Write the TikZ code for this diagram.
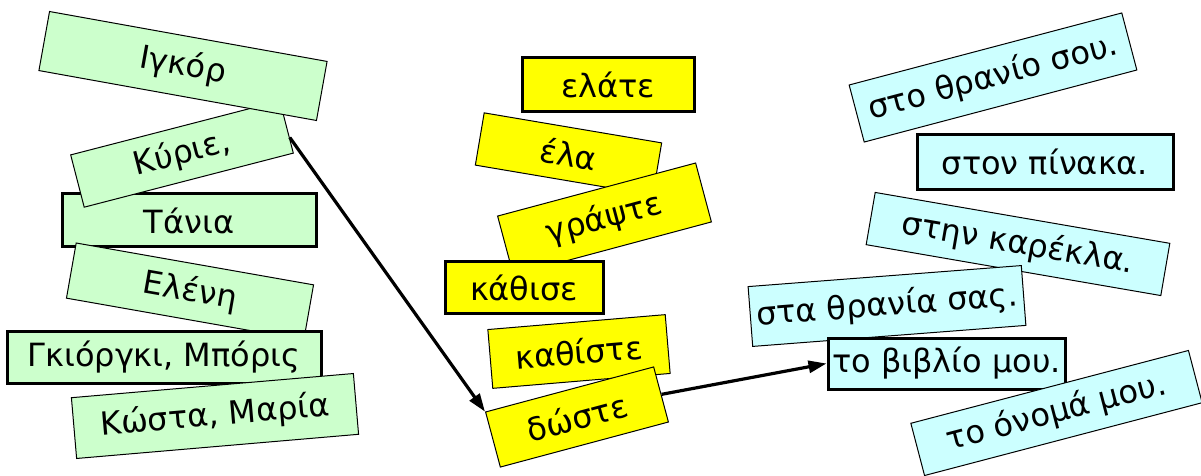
\documentclass[tikz,border=0pt]{standalone}
\usepackage{fontspec}
\setmainfont{DejaVu Sans}
\usetikzlibrary{positioning,arrows.meta,calc}
\definecolor{namegreen}{HTML}{CCFFCC}
\definecolor{verbyellow}{HTML}{FFFF00}
\definecolor{placecyan}{HTML}{CCFFFF}
\tikzset{
  card/.style={draw=black,line width=0.5pt,inner sep=0pt,font=\fontsize{16}{19}\selectfont},
  namecard/.style={card,fill=namegreen},
  verbcard/.style={card,fill=verbyellow},
  placecard/.style={card,fill=placecyan},
  keycard/.style={line width=1.5pt},
  link/.style={-{Triangle[length=9pt,width=6pt]},line width=1.6pt},
}

\begin{document}
\begin{tikzpicture}[x=0.5pt,y=-0.5pt]
  \useasboundingbox (0,0) rectangle (1201,476);
  \node[namecard,keycard,minimum width=127pt,minimum height=26.5pt] (tania) at (189,220.5) {Τάνια};
  \node[namecard,rotate=14.5,minimum width=108pt,minimum height=27pt] (kyrie) at (182,154) {Κύριε,};
  \node[namecard,rotate=-10.2,minimum width=141pt,minimum height=30pt] (igor) at (183,66) {Ιγκόρ};
  \node[namecard,rotate=-10,minimum width=120.5pt,minimum height=28pt] (eleni) at (190,291.5) {Ελένη};
  \node[namecard,keycard,minimum width=157pt,minimum height=26pt] (giorgki) at (164,357) {Γκιόργκι, Μπόρις};
  \node[namecard,rotate=4.9,minimum width=141.5pt,minimum height=30.5pt] (kosta) at (215,416) {Κώστα, Μαρία};

  \node[verbcard,keycard,minimum width=86pt,minimum height=27pt] (elate) at (608,85) {ελάτε};
  \node[verbcard,rotate=-9.6,minimum width=90pt,minimum height=26.5pt] (ela) at (568.5,154) {έλα};
  \node[verbcard,rotate=15,minimum width=102.5pt,minimum height=30.5pt] (grapste) at (604.5,219) {γράψτε};
  \node[verbcard,keycard,minimum width=79pt,minimum height=25.5pt] (kathise) at (524,287.5) {κάθισε};
  \node[verbcard,rotate=4.8,minimum width=89pt,minimum height=29.5pt] (kathiste) at (579,351.5) {καθίστε};
  \node[verbcard,rotate=15,minimum width=87pt,minimum height=28.5pt] (doste) at (577,417) {δώστε};

  \node[placecard,rotate=14.8,minimum width=141pt,minimum height=29.5pt] (stoThranio) at (993,77.5) {στο θρανίο σου.};
  \node[placecard,keycard,minimum width=128pt,minimum height=27.5pt] (stonPinaka) at (1045,162.5) {στον πίνακα.};
  \node[placecard,rotate=-9.8,minimum width=149.5pt,minimum height=26.5pt] (stinKarekla) at (1018,244) {στην καρέκλα.};
  \node[placecard,rotate=4.4,minimum width=137pt,minimum height=30pt] (staThrania) at (887,306) {στα θρανία σας.};
  \node[placecard,keycard,minimum width=118.5pt,minimum height=25.5pt] (toVivlio) at (946.5,363.5) {το βιβλίο μου.};
  \node[placecard,rotate=14.7,minimum width=143.5pt,minimum height=27pt] (toOnoma) at (1056.5,413) {το όνομά μου.};

  \draw[link] ($(kyrie.east)!0.4!(kyrie.south east)$) -- (doste.north west);
  \draw[link] (doste.east) -- (toVivlio.west);
\end{tikzpicture}
\end{document}
